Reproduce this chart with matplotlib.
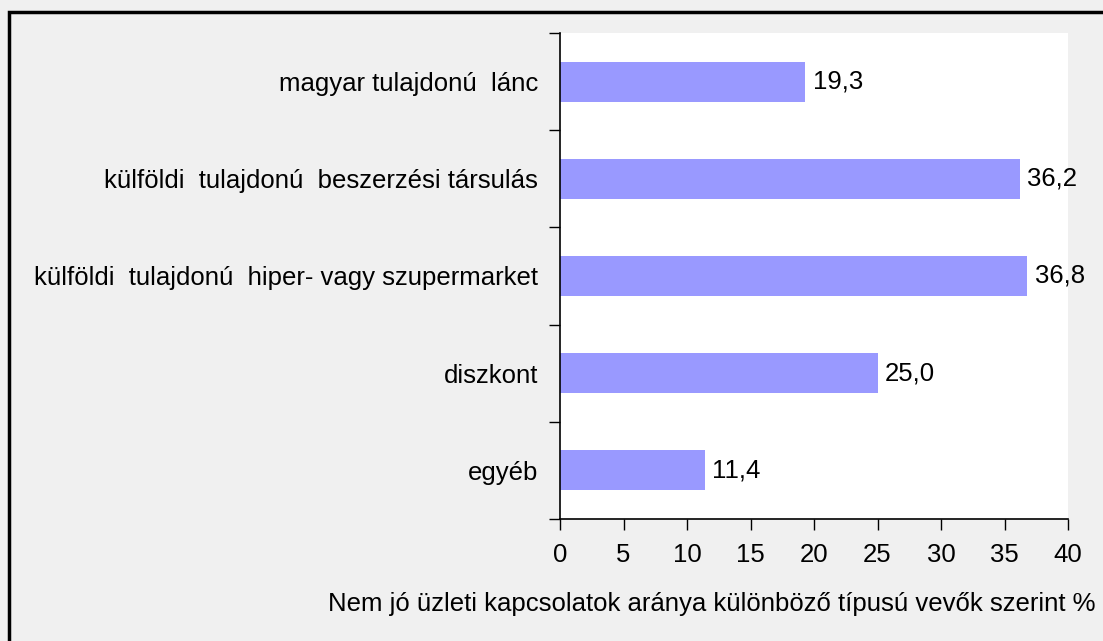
import matplotlib.pyplot as plt
import numpy as np
from matplotlib.patches import Rectangle

categories = ["egyéb", "diszkont", "külföldi  tulajdonú  hiper- vagy szupermarket",
              "külföldi  tulajdonú  beszerzési társulás", "magyar tulajdonú  lánc"]
values = [11.4, 25.0, 36.8, 36.2, 19.3]
x_ticks = [0, 5, 10, 15, 20, 25, 30, 35, 40]
x_label = "Nem jó üzleti kapcsolatok aránya különböző típusú vevők szerint %"

plt.rcParams['font.family'] = ['Liberation Sans', 'DejaVu Sans']
plt.rcParams['font.size'] = 18.5

fig = plt.figure(figsize=(11.03, 6.41), dpi=100)
fig.patch.set_facecolor("#F0F0F0")
# frame only visible on the left and top (the picture is cropped)
fig.patches.append(Rectangle((9 / 1103, -0.1), 1.2, 1.1 - 12 / 641, transform=fig.transFigure,
                             fill=False, edgecolor="black", linewidth=2.5))

ax = fig.add_axes([560 / 1103, 1 - 519 / 641, 508 / 1103, 486 / 641])
ax.set_facecolor("white")

y = np.arange(len(categories))
ax.barh(y, values, height=0.41, color="#9999FF")
for yi, v in zip(y, values):
    ax.text(v + 0.6, yi, f"{v:.1f}".replace(".", ","), va="center", ha="left")

ax.set_xlim(0, 40)
ax.set_ylim(-0.5, len(categories) - 0.5)
ax.set_xticks(x_ticks)
ax.set_yticks(y)
ax.set_yticklabels(categories)
ax.set_yticks(np.arange(-0.5, len(categories)), minor=True)
ax.tick_params(axis="y", which="major", length=0, pad=16)
ax.tick_params(axis="y", which="minor", length=8, width=1, direction="out")
ax.tick_params(axis="x", length=8, width=1, direction="out", pad=9)

for s in ["top", "right"]:
    ax.spines[s].set_visible(False)
ax.spines["left"].set_linewidth(1.2)
ax.spines["bottom"].set_linewidth(1.2)

fig.text(712 / 1103, 1 - 604 / 641, x_label, ha="center", va="center")

plt.savefig("out.png", dpi=100, facecolor=fig.get_facecolor())
